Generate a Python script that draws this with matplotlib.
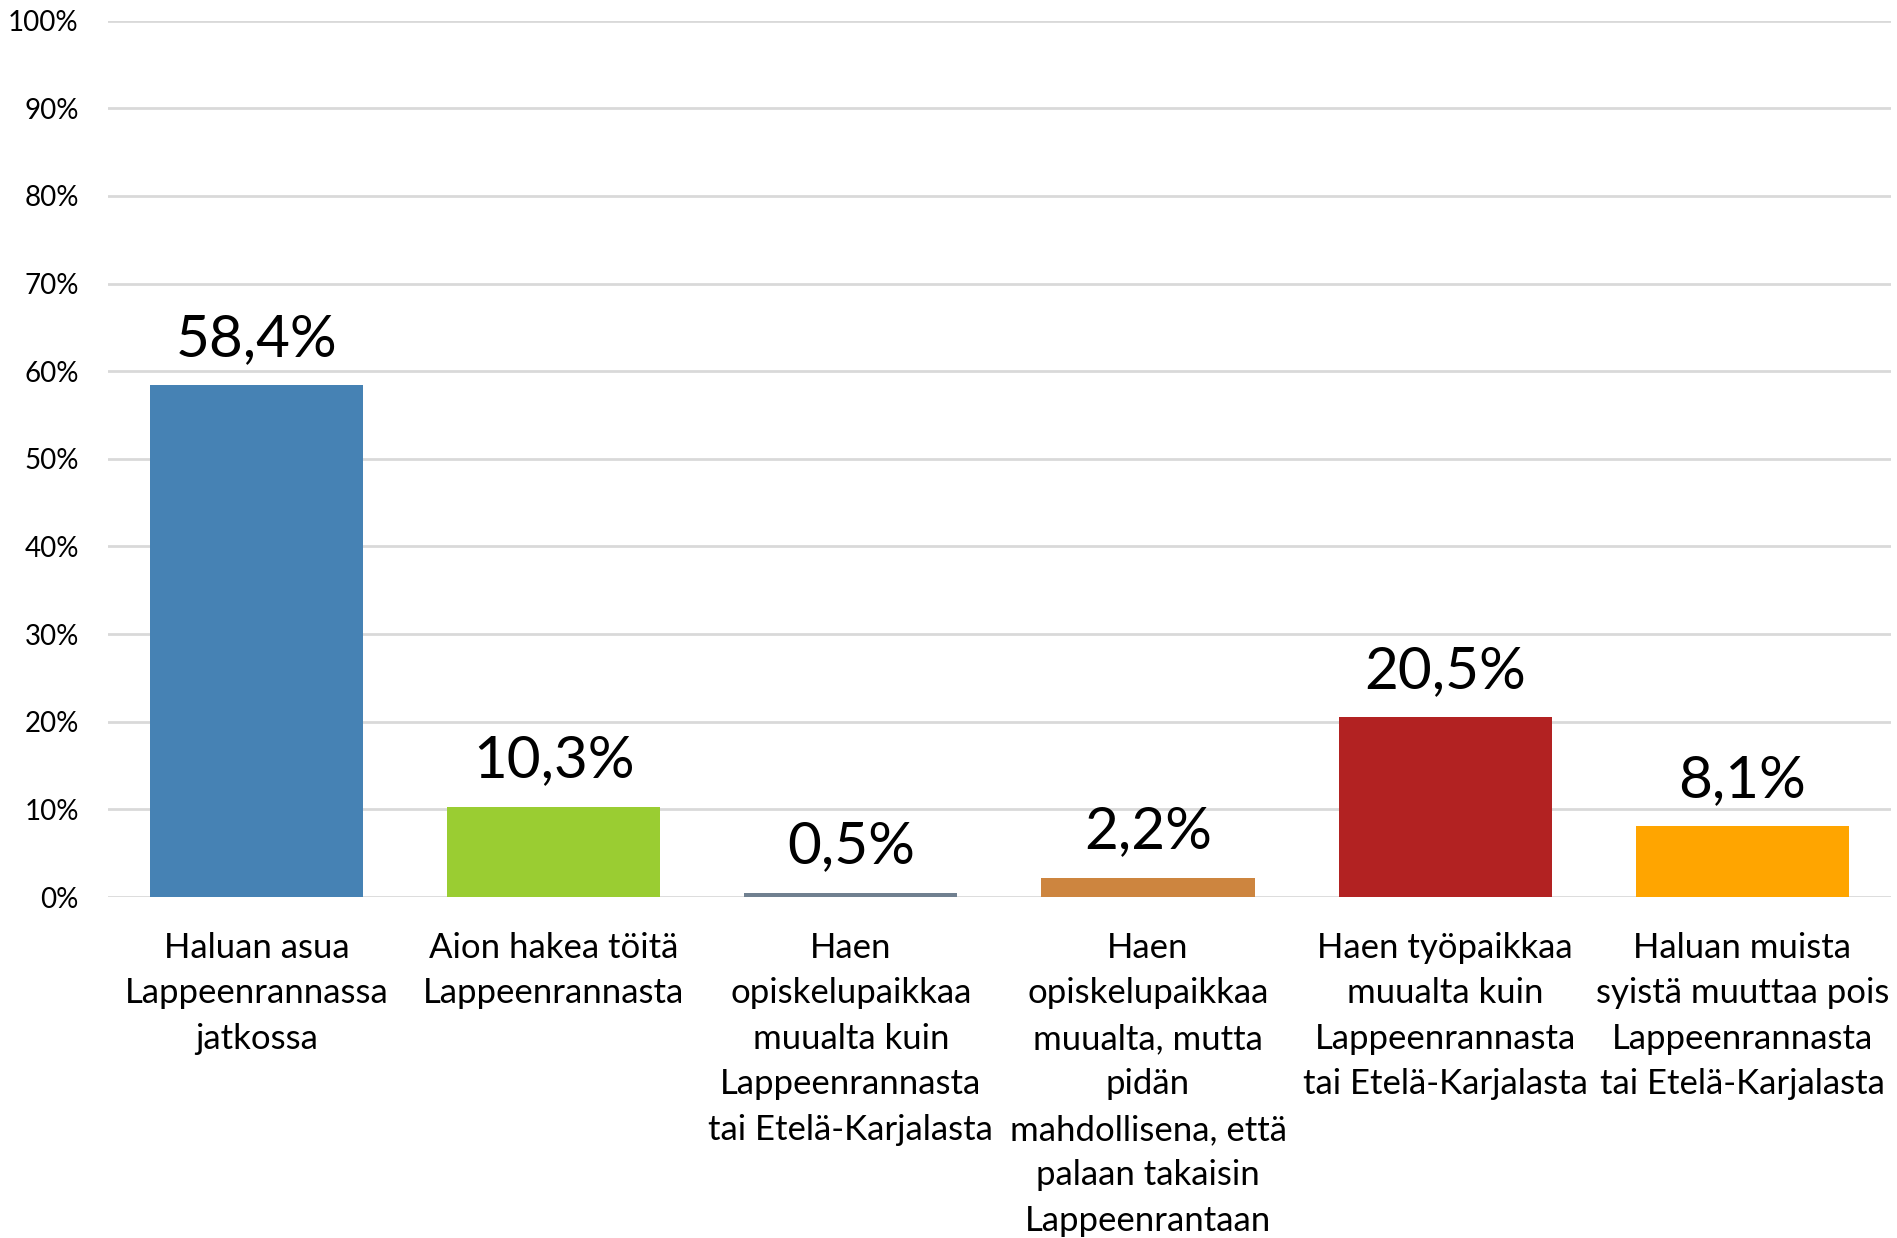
import matplotlib.pyplot as plt
from matplotlib.ticker import FuncFormatter

categories = [
    "Haluan asua\nLappeenrannassa\njatkossa",
    "Aion hakea töitä\nLappeenrannasta",
    "Haen\nopiskelupaikkaa\nmuualta kuin\nLappeenrannasta\ntai Etelä-Karjalasta",
    "Haen\nopiskelupaikkaa\nmuualta, mutta\npidän\nmahdollisena, että\npalaan takaisin\nLappeenrantaan",
    "Haen työpaikkaa\nmuualta kuin\nLappeenrannasta\ntai Etelä-Karjalasta",
    "Haluan muista\nsyistä muuttaa pois\nLappeenrannasta\ntai Etelä-Karjalasta",
]
values = [58.4, 10.3, 0.5, 2.2, 20.5, 8.1]
colors = ["#4682B4", "#9ACD32", "#708090", "#CD853F", "#B22222", "#FFA500"]

plt.rcParams['font.family'] = ['Lato', 'DejaVu Sans']

fig = plt.figure(figsize=(18.97, 12.38), dpi=100)
ax = fig.add_axes([0.0569, 0.2754, 0.9399, 0.708])

x = range(len(values))
bars = ax.bar(x, values, width=0.717, color=colors, zorder=3)

# data labels above each bar, Finnish decimal comma
for xi, v in zip(x, values):
    ax.annotate(("%.1f%%" % v).replace(".", ","), (xi, v), xytext=(0, 14),
                textcoords="offset points", ha="center", va="bottom",
                fontsize=42, color="black")

ax.set_xlim(-0.5, len(values) - 0.5)
ax.set_ylim(0, 100)
ax.set_yticks(range(0, 101, 10))
ax.yaxis.set_major_formatter(FuncFormatter(lambda v, p: "%d%%" % v))
ax.grid(axis="y", color="#d9d9d9", linewidth=2, zorder=0)
ax.set_xticks(list(x))
ax.set_xticklabels(categories, fontsize=25, linespacing=1.52)
ax.tick_params(axis="x", length=0, pad=25)
ax.tick_params(axis="y", length=0, pad=21, labelsize=20)
for s in ax.spines.values():
    s.set_visible(False)

fig.savefig("out.png", dpi=100)
